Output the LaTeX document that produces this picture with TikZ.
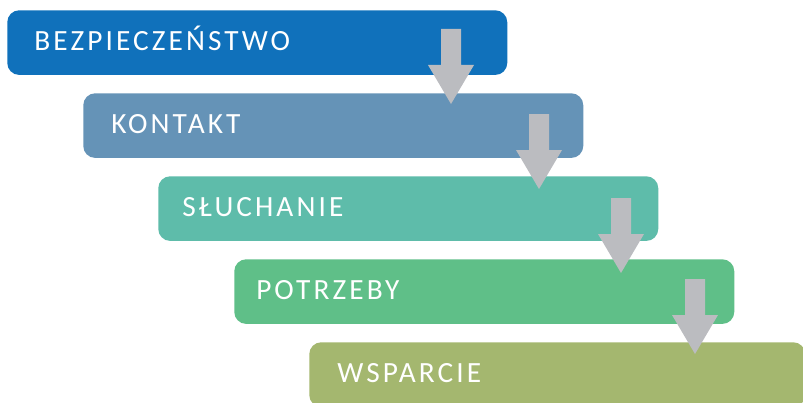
\documentclass[tikz,border=0pt]{standalone}
\usepackage{fontspec}
\setmainfont{Carlito}
\newfontfamily\stagefont[LetterSpace=10.5]{Carlito}
\usetikzlibrary{calc}

\definecolor{stageA}{HTML}{1071BB}
\definecolor{stageB}{HTML}{6593B7}
\definecolor{stageC}{HTML}{5EBCAA}
\definecolor{stageD}{HTML}{5FBF88}
\definecolor{stageE}{HTML}{A4B76F}
\definecolor{arrowgray}{HTML}{BBBCC0}

\tikzset{
  stagebox/.style={draw=none, rounded corners=9pt, anchor=north west,
    minimum width=375pt, minimum height=48.5pt, inner sep=0pt},
  stagetext/.style={anchor=base west, inner sep=0pt, text=white,
    font=\stagefont\fontsize{22}{26}\selectfont},
  flowarrow/.pic={
    \fill[arrowgray] (-10,0) -- (10,0) -- (10,36) -- (23,36) -- (0,75)
      -- (-23,36) -- (-10,36) -- cycle;
  }
}

\begin{document}
\begin{tikzpicture}[x=0.75pt,y=-0.75pt]
  \useasboundingbox (0,0) rectangle (803,403);
  \clip (0,0) rectangle (803,403);

  % stage boxes
  \node[stagebox, fill=stageA] (s1) at (7,10) {};
  \node[stagebox, fill=stageB] (s2) at (83,93) {};
  \node[stagebox, fill=stageC] (s3) at (158,176) {};
  \node[stagebox, fill=stageD] (s4) at (234,259) {};
  \node[stagebox, fill=stageE, minimum width=372pt] (s5) at (309,342) {};

  % stage labels
  \node[stagetext] (t1) at ($(s1.north west)+(27,40.5)$) {BEZPIECZEŃSTWO};
  \node[stagetext] (t2) at ($(s2.north west)+(28,40.5)$) {KONTAKT};
  \node[stagetext] (t3) at ($(s3.north west)+(24,40.5)$) {SŁUCHANIE};
  \node[stagetext] (t4) at ($(s4.north west)+(22,40.5)$) {POTRZEBY};
  \node[stagetext] (t5) at ($(s5.north west)+(28,40.5)$) {WSPARCIE};

  % block arrows leading from one stage to the next
  \pic at (451,29) {flowarrow};
  \pic at (539,114) {flowarrow};
  \pic at (621,198) {flowarrow};
  \pic at (695,279) {flowarrow};
\end{tikzpicture}
\end{document}
